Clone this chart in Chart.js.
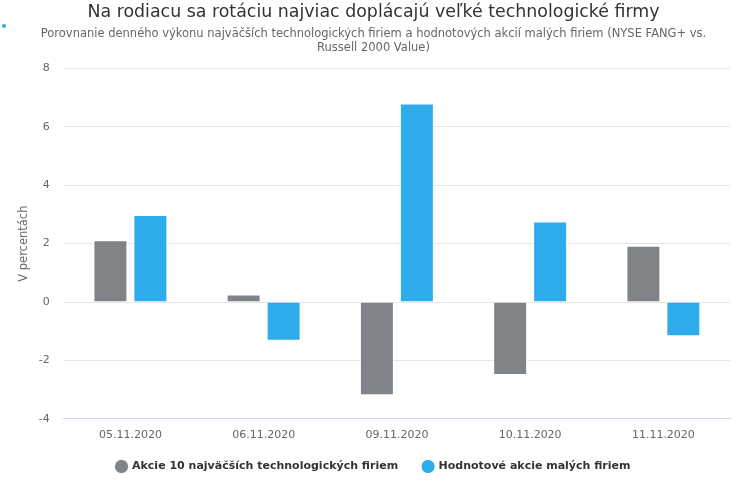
<!DOCTYPE html>
<html lang="sk">
<head>
    <meta charset="UTF-8">
    <title>Na rodiacu sa rotáciu najviac doplácajú veľké technologické firmy</title>
    <script src="https://cdn.jsdelivr.net/npm/chart.js"></script>
    <style>
        body {
            margin: 0;
            background: #ffffff;
        }

        .chart-box {
            position: relative;
            width: 744px;
            height: 500px;
        }
    </style>
</head>
<body>
    <div class="chart-box">
        <canvas id="rotationChart"></canvas>
    </div>

    <script>
        const dates = ['05.11.2020', '06.11.2020', '09.11.2020', '10.11.2020', '11.11.2020'];
        const bigTech = [2.12, 0.26, -3.19, -2.5, 1.93];
        const smallValue = [2.98, -1.33, 6.8, 2.76, -1.17];
        const seriesNames = ['Akcie 10 najväčších technologických firiem', 'Hodnotové akcie malých firiem'];
        const yTicks = [-4, -2, 0, 2, 4, 6, 8];

        const fontFamily = "'DejaVu Sans', sans-serif";

        // small blue dot in the top left corner
        const cornerDot = {
            id: 'cornerDot',
            afterDraw(chart) {
                const ctx = chart.ctx;
                ctx.save();
                ctx.fillStyle = '#2eaae8';
                ctx.beginPath();
                ctx.arc(4, 26, 2, 0, Math.PI * 2);
                ctx.fill();
                ctx.restore();
            }
        };

        // pull the legend up closer to the x labels
        const legendShift = {
            id: 'legendShift',
            afterLayout(chart) {
                chart.legend.top -= 16;
                chart.legend.bottom -= 16;
            }
        };

        const ctx = document.getElementById('rotationChart').getContext('2d');
        new Chart(ctx, {
            type: 'bar',
            data: {
                labels: dates,
                datasets: [{
                    label: seriesNames[0],
                    data: bigTech,
                    backgroundColor: '#808387',
                    borderColor: '#ffffff',
                    borderWidth: 1
                }, {
                    label: seriesNames[1],
                    data: smallValue,
                    backgroundColor: '#2eabea',
                    borderColor: '#ffffff',
                    borderWidth: 1
                }]
            },
            options: {
                responsive: true,
                maintainAspectRatio: false,
                animation: false,
                categoryPercentage: 0.6,
                barPercentage: 0.85,
                layout: {
                    padding: { left: 17, right: 14, top: 2, bottom: 2 }
                },
                plugins: {
                    title: {
                        display: true,
                        text: 'Na rodiacu sa rotáciu najviac doplácajú veľké technologické firmy',
                        color: '#333333',
                        font: { family: fontFamily, size: 17.4, weight: 'normal' },
                        padding: { top: 0, bottom: 4 }
                    },
                    subtitle: {
                        display: true,
                        text: ['Porovnanie denného výkonu najväčších technologických firiem a hodnotových akcií malých firiem (NYSE FANG+ vs.', 'Russell 2000 Value)'],
                        color: '#666666',
                        font: { family: fontFamily, size: 11.5 },
                        padding: { top: 0, bottom: 14 }
                    },
                    legend: {
                        position: 'bottom',
                        labels: {
                            usePointStyle: true,
                            pointStyle: 'circle',
                            boxWidth: 10,
                            boxHeight: 10,
                            padding: 25,
                            color: '#333333',
                            font: { family: fontFamily, size: 11, weight: 'bold' }
                        }
                    },
                    tooltip: { enabled: false }
                },
                scales: {
                    x: {
                        grid: { display: false, drawTicks: false },
                        border: { color: '#ccd6eb' },
                        ticks: {
                            color: '#666666',
                            padding: 10,
                            font: { family: fontFamily, size: 11 }
                        }
                    },
                    y: {
                        min: yTicks[0],
                        max: yTicks[yTicks.length - 1],
                        afterBuildTicks(axis) {
                            axis.ticks = yTicks.map(v => ({ value: v }));
                        },
                        grid: { color: '#e6e6e6', drawTicks: false },
                        border: { display: false },
                        ticks: {
                            color: '#666666',
                            padding: 14,
                            font: { family: fontFamily, size: 11 }
                        },
                        title: {
                            display: true,
                            text: 'V percentách',
                            color: '#666666',
                            font: { family: fontFamily, size: 11.5 },
                            padding: { top: 0, bottom: -6 }
                        }
                    }
                }
            },
            plugins: [cornerDot, legendShift]
        });
    </script>
</body>
</html>
